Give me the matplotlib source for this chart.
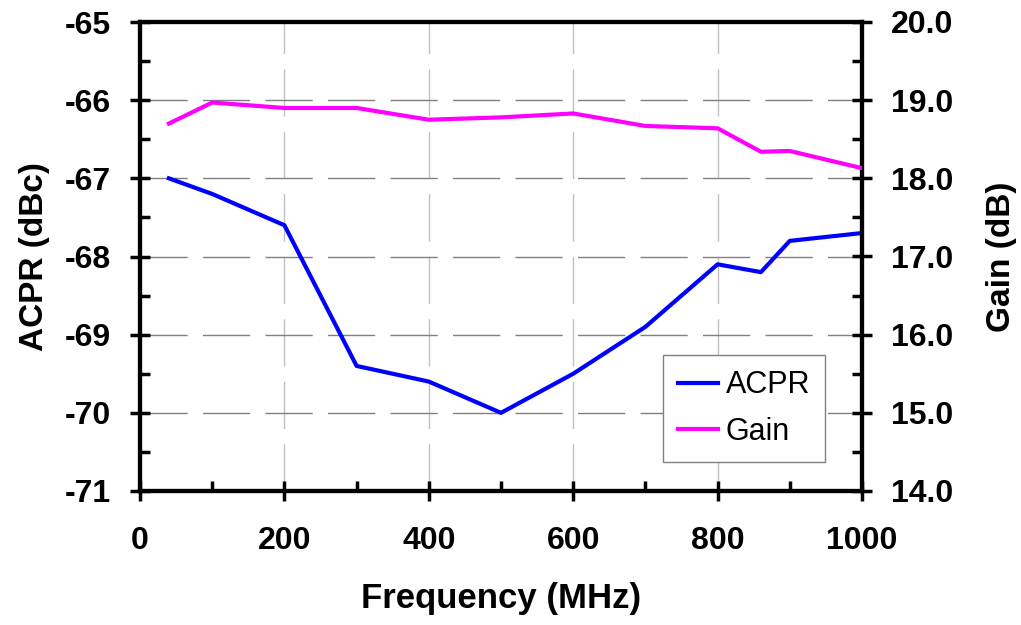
import numpy as np
import matplotlib.pyplot as plt
from matplotlib.ticker import MultipleLocator

plt.rcParams['font.family'] = ['Liberation Sans', 'DejaVu Sans']
plt.rcParams['axes.unicode_minus'] = False

freq = [40, 100, 200, 300, 400, 500, 600, 700, 800, 860, 900, 1000]
acpr = [-67.0, -67.2, -67.6, -69.4, -69.6, -70.0, -69.5, -68.9, -68.1, -68.2, -67.8, -67.7]
gain = [18.70, 18.97, 18.90, 18.90, 18.75, 18.78, 18.83, 18.67, 18.64, 18.34, 18.35, 18.13]

fig = plt.figure(figsize=(10.21, 6.25), dpi=100)
ax = fig.add_axes([140 / 1021, 1 - 491 / 625, 722 / 1021, 469 / 625])
ax2 = ax.twinx()

l1, = ax.plot(freq, acpr, color='#0000ff', lw=3, label='ACPR', zorder=3)
l2, = ax2.plot(freq, gain, color='#ff00ff', lw=3, label='Gain', zorder=3)

ax.set_xlim(0, 1000)
ax.set_ylim(-71, -65)
ax2.set_ylim(14, 20)

ax.xaxis.set_major_locator(MultipleLocator(200))
ax.xaxis.set_minor_locator(MultipleLocator(100))
ax.yaxis.set_major_locator(MultipleLocator(1))
ax.yaxis.set_minor_locator(MultipleLocator(0.5))
ax2.yaxis.set_major_locator(MultipleLocator(1))
ax2.yaxis.set_minor_locator(MultipleLocator(0.5))
ax2.yaxis.set_major_formatter(lambda v, p: f'{v:.1f}')

ax.grid(axis='y', which='major', color='#808080', ls=(0, (34, 11)), lw=1)
ax.grid(axis='x', which='major', color='#c0c0c0', ls=(0, (34, 11)), lw=1)

for a in (ax, ax2):
    for s in a.spines.values():
        s.set_linewidth(3)
    a.tick_params(which='major', direction='inout', length=14, width=2.5, labelsize=23)
    a.tick_params(which='minor', direction='in', length=7, width=2.5)
    for t in a.get_xticklabels() + a.get_yticklabels():
        t.set_fontweight('bold')

ax.tick_params(axis='x', pad=18)
ax.tick_params(axis='y', pad=14)
ax2.tick_params(axis='y', pad=14)

ax.set_xlabel('Frequency (MHz)', fontsize=25, fontweight='bold')
ax.set_ylabel('ACPR (dBc)', fontsize=24, fontweight='bold')
ax2.set_ylabel('Gain (dB)', fontsize=24, fontweight='bold')
ax.xaxis.set_label_coords(0.5, -0.195)
ax.yaxis.set_label_coords(-0.125, 0.5)
ax2.yaxis.set_label_coords(1.172, 0.5)

leg = ax.legend(handles=[l1, l2], loc='upper left', bbox_to_anchor=(663 / 1021, 1 - 355 / 625),
                bbox_transform=fig.transFigure, borderaxespad=0,
                fontsize=22, fancybox=False, framealpha=1, edgecolor='#808080',
                handlelength=1.3, handletextpad=0.25, borderpad=0.5, labelspacing=0.55)
leg.get_frame().set_linewidth(1)

fig.savefig('out.png', dpi=100)
